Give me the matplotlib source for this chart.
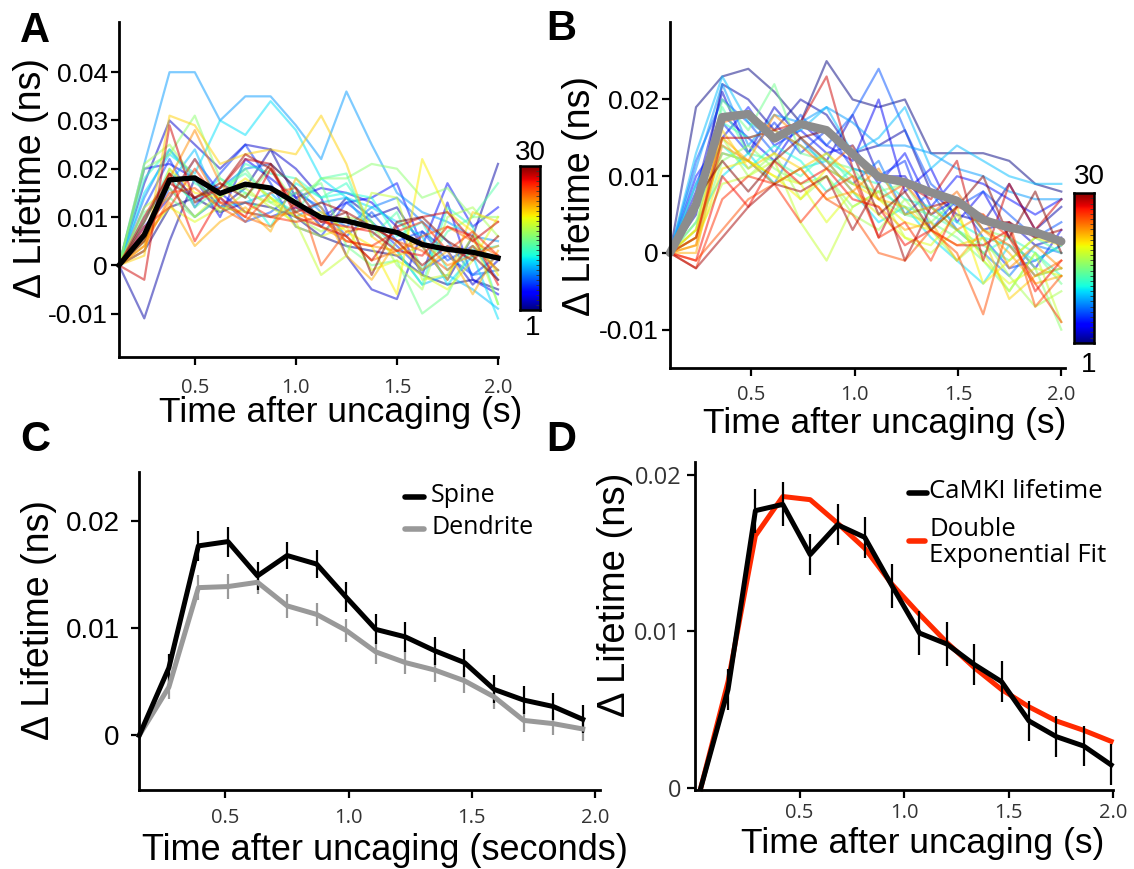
import matplotlib.pyplot as plt
import numpy as np
from matplotlib.lines import Line2D

plt.rcParams['font.family'] = ['Liberation Sans', 'DejaVu Sans']

W, H = 1134, 869

# time points of each panel (s)
t_A = [0.125, 0.25, 0.375, 0.5, 0.625, 0.75, 0.875, 1.0, 1.125, 1.25, 1.375, 1.5, 1.625, 1.75, 1.875, 2.0]
t_B = [0.106, 0.232, 0.359, 0.485, 0.611, 0.738, 0.864, 0.990, 1.116, 1.243, 1.369, 1.495, 1.622, 1.748, 1.874, 2.0]
t_C = [0.15, 0.27, 0.39, 0.51, 0.63, 0.75, 0.87, 0.99, 1.11, 1.23, 1.35, 1.47, 1.59, 1.71, 1.83, 1.95]
t_D = [0.027, 0.158, 0.289, 0.420, 0.551, 0.682, 0.812, 0.943, 1.074, 1.205, 1.336, 1.467, 1.598, 1.729, 1.860, 1.991]

# values in units of 0.001 ns
camk_mean = [0, 6.3, 17.7, 18.1, 14.9, 16.8, 16.0, 12.9, 9.9, 9.2, 7.9, 6.8, 4.3, 3.3, 2.7, 1.5]
camk_sem = [0, 1.3, 1.4, 1.4, 1.3, 1.3, 1.3, 1.4, 1.4, 1.4, 1.3, 1.3, 1.3, 1.3, 1.3, 1.3]
dendrite_mean = [0, 4.5, 13.8, 13.9, 14.3, 12.1, 11.3, 9.8, 7.8, 6.8, 6.1, 5.1, 3.6, 1.4, 1.1, 0.6]
dendrite_sem = [0, 1.1, 1.2, 1.2, 1.1, 1.1, 1.1, 1.1, 1.1, 1.1, 1.1, 1.1, 1.1, 1.1, 1.1, 1.1]
fit_curve = [0, 6.8, 16.1, 18.6, 18.4, 16.9, 15.3, 13.0, 11.1, 9.3, 7.7, 6.3, 5.2, 4.3, 3.7, 3.0]

# single spine traces, spine 1..30
traces_A = [
    [0, 3, 12, 14, 11, 13, 12, 10, 6, 4, 3, 2, -2, -4, -3, -5],
    [0, -11, 5, 18, 12, 16, 24, 14, 8, 14, 10, 12, 4, -3, 6, 21],
    [0, 17, 30, 25, 20, 25, 24, 20, 14, 2, -5, -7, 7, 3, -4, 1],
    [0, 20, 21, 18, 10, 22, 18, 14, 16, 15, 13, 8, -2, 13, -3, -6],
    [0, 8, 14, 22, 15, 11, 10, 12, 10, 13, 14, 17, 4, 17, 8, 12],
    [0, 12, 22, 12, 19, 25, 17, 8, 6, 13, 9, 4, -1, 2, -2, 2],
    [0, 6, 16, 10, 14, 9, 11, 15, 12, 6, 11, 5, 7, 1, 4, -3],
    [0, 14, 24, 18, 16, 20, 21, 16, 11, 8, 12, 14, 9, 5, -2, -1],
    [0, 21, 40, 40, 30, 35, 35, 29, 22, 36, 25, 15, 11, 9, 6, 5],
    [0, 10, 17, 24, 12, 13, 15, 10, 13, 14, 7, 3, -4, -2, -5, -9],
    [0, 15, 23, 19, 30, 27, 34, 28, 18, 14, 12, 9, 6, -4, 2, -11],
    [0, 5, 18, 13, 18, 15, 8, 17, 14, 15, 14, 6, 9, -1, 3, 4],
    [0, 18, 24, 17, 14, 21, 19, 18, 14, 17, 9, 3, -4, 12, 8, -8],
    [0, 9, 20, 12, 16, 19, 14, 11, 18, 19, 6, 11, -1, 7, 10, 17],
    [0, 11, 14, 10, 14, 20, 13, 15, 17, 4, 0, 1, -10, -6, 4, -1],
    [0, 20, 23, 31, 18, 14, 20, 13, 18, 18, 21, 20, 14, 16, 10, 10],
    [0, 21, 25, 18, 11, 15, 13, 10, 7, 10, 9, 0, -5, 10, 12, 6],
    [0, 12, 16, 10, 15, 16, 12, 9, -2, 2, 15, 14, -3, -2, 6, -8],
    [0, 6, 12, 9, 12, 11, 14, 8, 6, 8, -1, 1, -2, -5, 1, 10],
    [0, 4, 20, 15, 14, 18, 14, 10, 11, 7, 4, -6, 22, 11, 7, -2],
    [0, 2, 31, 29, 21, 23, 24, 23, 31, 21, 6, 2, 4, -3, 11, 9],
    [0, 5, 13, 4, 9, 12, 7, 18, 12, 2, -3, 5, -1, 3, -6, 3],
    [0, 3, 18, 28, 17, 11, 10, 11, 8, 5, 4, 3, 5, 0, 2, 4],
    [0, 4, 14, 22, 13, 10, 8, 13, 10, 6, 1, 3, 6, 8, 5, 2],
    [0, 7, 15, 16, 12, 9, 15, 16, 0, 7, 8, 5, 3, -1, 4, -1],
    [0, 8, 12, 20, 13, 13, 10, 9, 10, 5, 4, 7, 9, 3, 7, 2],
    [0, 10, 19, 5, 14, 10, 20, 12, 9, 8, 7, 3, 2, 8, 6, -4],
    [0, -3, 29, 13, 16, 22, 21, 10, 8, 6, 1, 8, 10, 11, 5, 9],
    [0, 5, 17, 14, 16, 23, 20, 11, 13, 11, 8, 5, 0, 4, 1, 6],
    [0, 9, 19, 14, 17, 14, 21, 16, 9, 11, -2, 9, 10, 5, 2, -3],
]

traces_B = [
    [0, 19, 23, 24, 21, 17, 25, 20, 19, 20, 13, 13, 13, 12, 9, 8],
    [0, 5, 22, 20, 16, 20, 18, 13, 14, 16, 8, 5, 4, 9, 3, 6],
    [0, 8, 21, 13, 19, 15, 12, 18, 10, 10, 5, 7, 3, 4, 1, 2],
    [0, 7, 18, 15, 12, 17, 14, 12, 20, 8, 11, 4, 8, 2, -2, 3],
    [0, 10, 15, 19, 14, 16, 13, 14, 9, 13, 6, 10, 9, 7, 5, 7],
    [0, 9, 17, 13, 17, 13, 16, 11, 10, 12, 3, 7, 2, -2, -1, 1],
    [0, 12, 20, 17, 13, 18, 14, 18, 24, 16, 9, 6, 8, 5, 2, 4],
    [0, 6, 13, 12, 9, 15, 11, 9, 12, 5, 8, 3, 0, -3, 1, 0],
    [0, 11, 22, 14, 18, 17, 19, 17, 14, 14, 13, 11, 10, 8, 7, 7],
    [0, 13, 23, 17, 15, 16, 19, 13, 15, 19, 11, 14, 12, 10, 9, 9],
    [0, 4, 10, 13, 9, 11, 12, 8, 4, 6, 2, -1, -4, 1, -3, -2],
    [0, 9, 14, 11, 14, 12, 8, 11, 10, 7, 6, 4, 2, 1, -1, 1],
    [0, 7, 17, 15, 16, 14, 12, 10, 9, 5, 6, 3, 0, 2, 0, -3],
    [0, 6, 19, 13, 12, 10, 13, 9, 8, 6, 5, 3, 1, -1, 2, 0],
    [0, 3, 20, 16, 22, 13, 12, 11, 7, 5, 4, 2, -1, -5, 0, -4],
    [0, 2, 12, 14, 11, 9, 10, 6, 8, 9, 4, 7, 3, 2, -2, -10],
    [0, 4, 15, 10, 13, 7, 10, 5, 3, 7, 3, -1, 2, -3, -7, -5],
    [0, 2, 9, 10, 12, 4, -1, 6, 8, 2, 0, 3, 0, -5, 0, -9],
    [0, 3, 13, 12, 10, 9, 4, 8, 5, 2, 1, 5, -1, -4, -2, -3],
    [0, 1, 11, 12, 10, 7, 11, 9, 7, 4, 3, 6, -4, -1, 2, 1],
    [0, 3, 16, 11, 13, 11, 13, 10, 7, 6, 3, 1, 2, -6, -3, -2],
    [0, 0, 15, 12, 9, 11, 7, 8, 6, 3, 4, -1, 3, 0, -4, -3],
    [0, 2, 14, 12, 18, 15, 12, 8, 11, 5, 6, 3, 5, -2, 1, -2],
    [0, 1, 17, 18, 16, 14, 11, 14, 7, 9, 5, 8, 3, 1, -3, -1],
    [0, -1, 3, 7, 9, 11, 7, 5, 0, -1, 3, 0, -8, 4, -7, -3],
    [0, -2, 7, 10, 9, 4, 8, 10, 2, 4, -1, 6, 5, 2, -4, -9],
    [0, -1, 10, 6, 12, 9, 11, 7, 6, 1, 3, 1, 1, 3, -5, -1],
    [0, 2, 15, 15, 16, 17, 23, 11, 2, 9, 7, 12, -1, 9, 3, 7],
    [0, -2, 2, 6, 9, 8, 10, 3, 9, -1, 6, 7, 4, 4, 2, 3],
    [0, 7, 12, 8, 12, 15, 16, 13, 5, 8, 3, 6, 10, 2, 8, 0],
]

x_ticks = [0.5, 1.0, 1.5, 2.0]
x_ticklabels = ['0.5', '1.0', '1.5', '2.0']

fig = plt.figure(figsize=(W / 100, H / 100), dpi=100)


def px_axes(x0, y0, x1, y1):
    # axes box given in pixel coords of the figure (origin top-left)
    return fig.add_axes([x0 / W, 1 - y1 / H, (x1 - x0) / W, (y1 - y0) / H])


def ftext(x, y, s, **kw):
    return fig.text(x / W, 1 - y / H, s, **kw)


def style(ax, xpad, ypad):
    for side in ['top', 'right']:
        ax.spines[side].set_visible(False)
    for side in ['left', 'bottom']:
        ax.spines[side].set_linewidth(2)
    ax.tick_params(direction='out', length=6, width=1.6, color='black')
    ax.tick_params(axis='x', pad=xpad)
    ax.tick_params(axis='y', pad=ypad)
    ax.set_xticks(x_ticks)
    ax.set_xticklabels(x_ticklabels, fontfamily='Open Sans', fontsize=14.5, color='#333333')


def colorbar(x0, y0, x1, y1, lab_top, lab_bot):
    cax = px_axes(x0, y0, x1, y1)
    grad = np.linspace(0, 1, 256).reshape(-1, 1)
    cax.imshow(grad, aspect='auto', cmap='jet', origin='lower')
    cax.set_xticks([])
    cax.set_yticks(np.linspace(0, 255, 30)[1:-1])
    cax.tick_params(axis='y', direction='in', length=3, width=0.6, colors='#333333',
                    left=False, right=True, labelleft=False)
    for s in cax.spines.values():
        s.set_linewidth(1.8)
    ftext(lab_top[0], lab_top[1], '30', fontsize=20, ha='center', va='center')
    ftext(lab_bot[0], lab_bot[1], '1', fontsize=20, ha='center', va='center')


colors = plt.cm.jet(np.linspace(0, 1, 30))

# ---------- A ----------
axA = px_axes(119, 22, 498, 357)
for k, tr in enumerate(traces_A):
    axA.plot(t_A, np.array(tr) * 1e-3, color=colors[k], lw=1.6, alpha=0.5, clip_on=False)
axA.plot(t_A, np.array(camk_mean) * 1e-3, color='black', lw=3.8, clip_on=False)
axA.set_xlim(0.125, 2.0)
axA.set_ylim(-0.019, 0.0504)
axA.set_yticks([-0.01, 0, 0.01, 0.02, 0.03, 0.04])
style(axA, 9, 2)
axA.set_yticklabels(['-0.01', '0', '0.01', '0.02', '0.03', '0.04'], fontsize=19)
colorbar(520, 166, 540, 310, (530, 153), (533, 328))
ftext(341, 413, 'Time after uncaging (s)', fontsize=25.5, ha='center', va='center')
ftext(31, 178, 'Δ Lifetime (ns)', fontsize=27, rotation=90, ha='center', va='center')
ftext(20, 42, 'A', fontsize=30, fontweight='bold')

# ---------- B ----------
axB = px_axes(670, 22, 1065, 368)
for k, tr in enumerate(traces_B):
    axB.plot(t_B, np.array(tr) * 1e-3, color=colors[k], lw=1.6, alpha=0.5, clip_on=False)
axB.plot(t_B, np.array(camk_mean) * 1e-3, color='#8c8c8c', lw=6, clip_on=False,
         solid_capstyle='round')
axB.set_xlim(0.106, 2.018)
axB.set_ylim(-0.015, 0.0301)
axB.set_yticks([-0.01, 0, 0.01, 0.02])
style(axB, 6, 2)
axB.set_yticklabels(['-0.01', '0', '0.01', '0.02'], fontsize=19)
colorbar(1074, 193, 1094, 343, (1089, 177), (1089, 365))
ftext(885, 423, 'Time after uncaging (s)', fontsize=25.5, ha='center', va='center')
ftext(580, 196, 'Δ Lifetime (ns)', fontsize=27, rotation=90, ha='center', va='center')
ftext(546, 40, 'B', fontsize=30, fontweight='bold')

# ---------- C ----------
axC = px_axes(139, 472, 600, 790)
axC.errorbar(t_C, np.array(dendrite_mean) * 1e-3, yerr=np.array(dendrite_sem) * 1e-3,
             color='#999999', lw=3.6, elinewidth=1.6, capsize=0, clip_on=False)
axC.errorbar(t_C, np.array(camk_mean) * 1e-3, yerr=np.array(camk_sem) * 1e-3,
             color='black', lw=3.6, elinewidth=1.6, capsize=0, clip_on=False)
axC.set_xlim(0.149, 2.02)
axC.set_ylim(-0.0051, 0.0246)
axC.set_yticks([0, 0.01, 0.02])
style(axC, 7, 8)
axC.set_yticklabels(['0', '0.01', '0.02'], fontsize=20)
fig.add_artist(Line2D([405 / W, 424 / W], [1 - 497 / H, 1 - 497 / H], color='black', lw=4,
                      solid_capstyle='round'))
fig.add_artist(Line2D([405 / W, 424 / W], [1 - 529 / H, 1 - 529 / H], color='#999999', lw=4,
                      solid_capstyle='round'))
ftext(431, 495, 'Spine', fontsize=18, fontfamily='Open Sans', va='center')
ftext(431, 527, 'Dendrite', fontsize=18, fontfamily='Open Sans', va='center')
ftext(385, 850, 'Time after uncaging (seconds)', fontsize=26, ha='center', va='center')
ftext(39, 620, 'Δ Lifetime (ns)', fontsize=27, rotation=90, ha='center', va='center')
ftext(20, 451, 'C', fontsize=30, fontweight='bold')

# ---------- D ----------
axD = px_axes(695, 462, 1113, 790)
axD.plot(t_D, np.array(fit_curve) * 1e-3, color='#ff2a00', lw=3.6, clip_on=False)
axD.errorbar(t_D, np.array(camk_mean) * 1e-3, yerr=np.array(camk_sem) * 1e-3,
             color='black', lw=3.6, elinewidth=1.6, capsize=0, clip_on=False)
axD.set_xlim(0, 2.0)
axD.set_ylim(-0.0001, 0.0208)
axD.set_yticks([0, 0.01, 0.02])
style(axD, 3, 4)
axD.set_yticklabels(['0', '0.01', '0.02'], fontsize=17, fontfamily='Open Sans', color='#333333')
fig.add_artist(Line2D([909 / W, 927 / W], [1 - 493 / H, 1 - 493 / H], color='black', lw=4,
                      solid_capstyle='round'))
fig.add_artist(Line2D([909 / W, 925 / W], [1 - 541 / H, 1 - 541 / H], color='#ff2a00', lw=4,
                      solid_capstyle='round'))
ftext(929, 492, 'CaMKI lifetime', fontsize=18.5, fontfamily='Open Sans', va='center')
ftext(929, 530, 'Double', fontsize=18.5, fontfamily='Open Sans', va='center')
ftext(929, 556, 'Exponential Fit', fontsize=18.5, fontfamily='Open Sans', va='center')
ftext(923, 843, 'Time after uncaging (s)', fontsize=25.5, ha='center', va='center')
ftext(615, 595, 'Δ Lifetime (ns)', fontsize=27.5, rotation=90, ha='center', va='center')
ftext(546, 451, 'D', fontsize=30, fontweight='bold')

fig.savefig('out.png', dpi=100)
